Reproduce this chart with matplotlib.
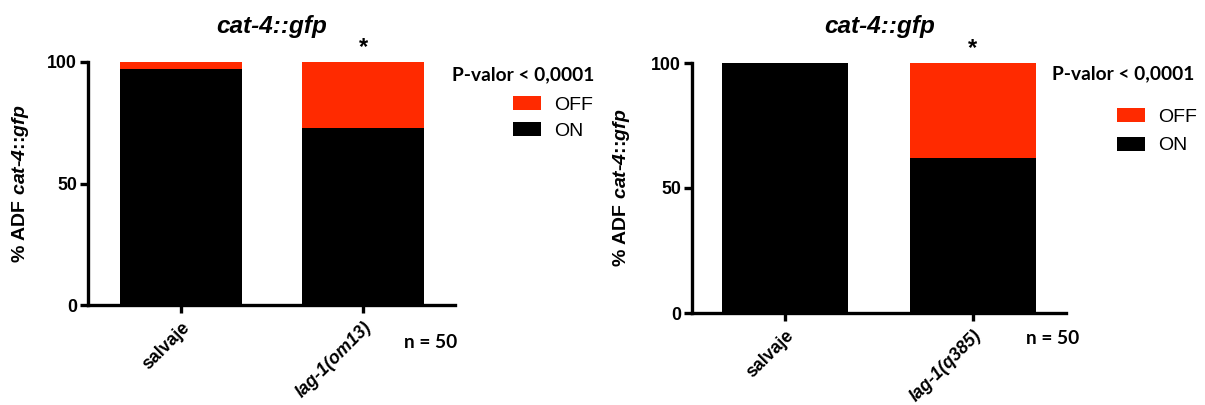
import matplotlib.pyplot as plt

plt.rcParams['font.family'] = 'Liberation Sans'
plt.rcParams['font.weight'] = 'bold'
plt.rcParams['axes.labelweight'] = 'bold'
plt.rcParams['mathtext.fontset'] = 'custom'
plt.rcParams['mathtext.rm'] = 'Liberation Sans:bold:italic'
plt.rcParams['mathtext.it'] = 'Liberation Sans:bold:italic'
plt.rcParams['mathtext.default'] = 'it'

# data (% of animals with ADF cat-4::gfp ON / OFF)
groups_a = ["salvaje", "lag-1(om13)"]
on_a = [97, 73]
off_a = [3, 27]

groups_b = ["salvaje", "lag-1(q385)"]
on_b = [100, 62]
off_b = [0, 38]

title = "cat-4::gfp"
ylabel = r"% ADF $cat$-$4$::$gfp$"
pval = "P-valor < 0,0001"
n_text = "n = 50"

RED = '#ff2a00'
W, H = 1205, 405


def box(x0, y0, x1, y1):
    """pixel box (top-left origin) -> figure fraction rect"""
    return [x0 / W, 1 - y1 / H, (x1 - x0) / W, (y1 - y0) / H]


def draw_panel(fig, rect, groups, on, off, xlim, title_xy, leg_xy, leg_space,
               pval_xy, n_xy, label_x):
    ax = fig.add_axes(rect)
    x = list(range(len(groups)))
    b_on = ax.bar(x, on, width=0.67, color='black', label='ON')
    b_off = ax.bar(x, off, bottom=on, width=0.67, color=RED, label='OFF')

    ax.set_xlim(*xlim)
    ax.set_ylim(0, 100)
    ax.set_yticks([0, 50, 100])
    ax.set_xticks(x)
    labels = ax.set_xticklabels(groups, rotation=45, ha='right',
                                rotation_mode='anchor')
    labels[1].set_fontstyle('italic')
    for s in ['top', 'right']:
        ax.spines[s].set_visible(False)
    for s in ['left', 'bottom']:
        ax.spines[s].set_linewidth(2.4)
    ax.tick_params(width=2.4, length=6, labelsize=12.8, pad=2)
    ax.tick_params(axis='x', pad=4)

    ax.set_ylabel(ylabel, fontsize=14, fontweight='bold')
    ax.yaxis.set_label_coords(label_x, 0.5)

    ax.annotate('*', xy=(1, 100), xytext=(0, 2), textcoords='offset points',
                ha='center', va='bottom', fontsize=17)

    fig.text(title_xy[0] / W, 1 - title_xy[1] / H, title, ha='center',
             va='center', fontsize=17.5, style='italic')
    fig.text(pval_xy[0] / W, 1 - pval_xy[1] / H, pval, ha='left',
             va='center', fontsize=13.8, family='Lato')
    fig.text(n_xy[0] / W, 1 - n_xy[1] / H, n_text, ha='center',
             va='center', fontsize=13.8, family='Lato')

    ax.legend(handles=[b_off, b_on], loc='upper left',
              bbox_to_anchor=(leg_xy[0] / W, 1 - leg_xy[1] / H),
              bbox_transform=fig.transFigure, frameon=False, borderpad=0,
              borderaxespad=0, handlelength=1.45, handleheight=0.75,
              handletextpad=0.65, labelspacing=leg_space,
              prop={'size': 14, 'weight': 'normal'})
    return ax


fig = plt.figure(figsize=(W / 100, H / 100), dpi=100)

draw_panel(fig, box(88, 62, 455, 305), groups_a, on_a, off_a,
           (-0.511, 1.505), (272, 27), (513, 96), 0.4,
           (452, 75), (431, 342), -0.155)
draw_panel(fig, box(692, 63, 1066, 313), groups_b, on_b, off_b,
           (-0.495, 1.495), (880, 27), (1117, 108), 0.55,
           (1052, 74), (1053, 339), -0.16)

fig.savefig('out.png', dpi=100)
